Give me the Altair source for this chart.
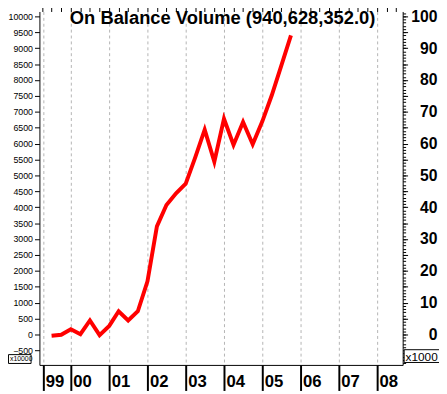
import altair as alt
import pandas as pd

# ---- data (quarterly On Balance Volume, left-axis units) ----
dates = ["1999-07-01", "1999-10-01", "2000-01-01", "2000-04-01", "2000-07-01", "2000-10-01",
         "2001-01-01", "2001-04-01", "2001-07-01", "2001-10-01", "2002-01-01", "2002-04-01",
         "2002-07-01", "2002-10-01", "2003-01-01", "2003-04-01", "2003-07-01", "2003-10-01",
         "2004-01-01", "2004-04-01", "2004-07-01", "2004-10-01", "2005-01-01", "2005-04-01",
         "2005-07-01", "2005-10-01"]
obv = [-40, -10, 165, 10, 440, -20,
       270, 730, 440, 730, 1670, 3400,
       4070, 4440, 4740, 5560, 6440, 5430,
       6780, 5960, 6680, 5980, 6700, 7520,
       8450, 9406]
title_text = ["On Balance Volume (940,628,352.0)"]
left_multiplier = ["x10000"]
right_multiplier = ["x1000"]
year_marks = [(1999, 4, 13), (2000, 1, 1), (2001, 1, 1), (2002, 1, 1), (2003, 1, 1),
              (2004, 1, 1), (2005, 1, 1), (2006, 1, 1), (2007, 1, 1), (2008, 1, 1)]
quarter_marks = [(y, m) for y in range(1999, 2009) for m in (1, 4, 7, 10)
                 if (y, m) >= (1999, 4) and (y, m) <= (2008, 7)]

df = pd.DataFrame({"date": dates, "v": obv})

FONT = "Liberation Sans"

xscale = alt.Scale(type="utc",
                   domain=[alt.DateTime(year=1999, month=3, date=7, utc=True),
                           alt.DateTime(year=2008, month=9, date=1, utc=True)])
yscale = alt.Scale(domain=[-957, 10154], nice=False, zero=False)

x_major = alt.Axis(
    values=[alt.DateTime(year=y, month=m, date=d, utc=True) for (y, m, d) in year_marks],
    labelExpr="utcFormat(datum.value, '%y')", labelAlign="left", labelOffset=2,
    labelBaseline="alphabetic", labelPadding=-4, labelFont=FONT, labelFontSize=17,
    labelFontWeight="bold", labelColor="black", tickSize=26, tickWidth=2, tickColor="black",
    domainColor="black", domainWidth=1, grid=True, gridDash=[3, 3], gridColor="#b4b4b4",
    gridWidth=1, labelFlush=False, labelOverlap=False, title=None)
x_minor = alt.Axis(
    values=[alt.DateTime(year=y, month=m, date=1, utc=True) for (y, m) in quarter_marks],
    labels=False, domain=False, grid=False, tickSize=5, tickColor="black", title=None)

y_left = alt.Axis(values=list(range(-500, 10001, 500)), format="d", labelFont=FONT,
                  labelFontSize=9, labelColor="black", tickSize=5, tickColor="black",
                  domainColor="black", labelPadding=2, grid=False, title=None,
                  labelOverlap=False, labelFlush=False)
y_left_minor = alt.Axis(values=list(range(-900, 10101, 100)), labels=False, domain=False,
                        grid=False, tickSize=3, tickColor="black", title=None)
y_right = alt.Axis(orient="right", values=list(range(0, 10001, 500)),
                   labelExpr="datum.value % 1000 == 0 ? format(datum.value/100, 'd') : ''",
                   labelFont=FONT, labelFontSize=16, labelFontWeight="bold", labelColor="black",
                   labelAlign="right", labelPadding=30, tickSize=5, tickColor="black",
                   domainColor="black", grid=False, title=None, labelOverlap=False,
                   labelFlush=False)

base = alt.Chart(df)
line = base.mark_line(color="#ff0000", strokeWidth=4).encode(
    x=alt.X("date:T", scale=xscale, axis=x_major),
    y=alt.Y("v:Q", scale=yscale, axis=y_left))
ax2 = base.mark_line(opacity=0).encode(
    x=alt.X("date:T", scale=xscale, axis=x_minor),
    y=alt.Y("v:Q", scale=yscale, axis=y_left_minor))
ax3 = base.mark_line(opacity=0).encode(
    x=alt.X("date:T", scale=xscale, axis=None),
    y=alt.Y("v:Q", scale=yscale, axis=y_right))

title = alt.Chart(pd.DataFrame({"t": title_text})).mark_text(
    align="left", baseline="alphabetic", font=FONT, fontSize=18.7, fontWeight="bold",
    color="black").encode(x=alt.value(31), y=alt.value(13), text="t:N")

rbox = alt.Chart(pd.DataFrame({"t": right_multiplier})).mark_rect(
    fill="white", stroke="black", strokeWidth=1).encode(
    x=alt.value(371.5), x2=alt.value(430), y=alt.value(344.5), y2=alt.value(357.5))
rtext = alt.Chart(pd.DataFrame({"t": right_multiplier})).mark_text(
    align="left", baseline="middle", font=FONT, fontSize=12, color="black").encode(
    x=alt.value(373), y=alt.value(351.5), text="t:N")
lbox = alt.Chart(pd.DataFrame({"t": left_multiplier})).mark_rect(
    fill="white", stroke="black", strokeWidth=1).encode(
    x=alt.value(-31.5), x2=alt.value(-8.5), y=alt.value(349.5), y2=alt.value(358.5))
ltext = alt.Chart(pd.DataFrame({"t": left_multiplier})).mark_text(
    align="left", baseline="middle", font=FONT, fontSize=7, color="black").encode(
    x=alt.value(-30), y=alt.value(354.5), text="t:N")

chart = alt.layer(line, ax2, ax3, title, rbox, rtext, lbox, ltext).resolve_axis(
    x="independent", y="independent").properties(
    width=370, height=360,
    autosize=alt.AutoSizeParams(type="none"),
    padding={"left": 32, "top": 0, "right": 37, "bottom": 23},
    background="white").configure_view(stroke=None)

chart.save("out.html", embed_options={"renderer": "svg", "actions": False})
